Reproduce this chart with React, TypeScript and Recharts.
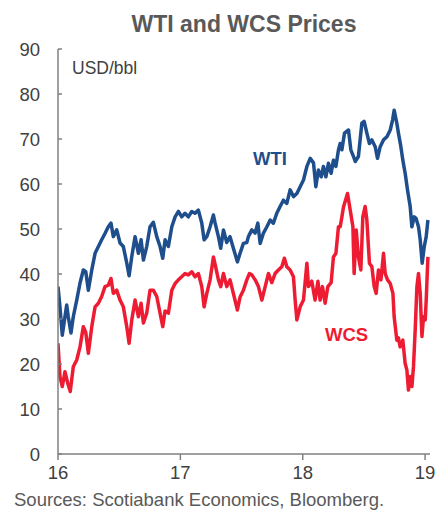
import React from 'react';
import { LineChart, Line, XAxis, YAxis } from 'recharts';

const wtiDates = [
  16.0, 16.016, 16.035, 16.057, 16.071, 16.084, 16.106, 16.125, 16.153, 16.18, 16.207, 16.227, 16.248, 16.276,
  16.303, 16.33, 16.357, 16.384, 16.411, 16.433, 16.452, 16.48, 16.507, 16.534, 16.562, 16.581, 16.603, 16.63,
  16.657, 16.679, 16.698, 16.725, 16.752, 16.779, 16.807, 16.834, 16.856, 16.875, 16.902, 16.93, 16.957, 16.984,
  17.011, 17.038, 17.065, 17.093, 17.12, 17.147, 17.175, 17.194, 17.216, 17.243, 17.27, 17.284, 17.311, 17.33,
  17.352, 17.379, 17.406, 17.433, 17.466, 17.488, 17.515, 17.543, 17.556, 17.584, 17.611, 17.633, 17.652, 17.679,
  17.707, 17.734, 17.76, 17.788, 17.815, 17.842, 17.87, 17.897, 17.924, 17.952, 17.979, 18.006, 18.034, 18.061,
  18.088, 18.107, 18.128, 18.151, 18.169, 18.189, 18.21, 18.232, 18.251, 18.271, 18.292, 18.306, 18.32, 18.341,
  18.374, 18.393, 18.415, 18.429, 18.455, 18.483, 18.502, 18.524, 18.545, 18.565, 18.592, 18.611, 18.633, 18.66,
  18.688, 18.715, 18.734, 18.747, 18.769, 18.782, 18.802, 18.818, 18.837, 18.856, 18.878, 18.892, 18.911, 18.927,
  18.946, 18.96, 18.976, 18.993, 19.009, 19.023,
];
const wtiPrices = [
  37.2, 32.7, 26.4, 30.5, 33.1, 30.5, 26.9, 30.5, 34.2, 38.0, 40.9, 40.5, 36.4, 40.9,
  44.6, 46.1, 47.6, 49.0, 50.5, 51.3, 48.3, 49.8, 46.9, 46.1, 42.4, 39.6, 43.9, 48.3,
  44.6, 47.6, 43.1, 46.1, 50.5, 51.5, 48.3, 46.1, 43.5, 47.6, 46.1, 50.5, 52.7, 53.9,
  52.7, 53.5, 52.7, 53.9, 53.5, 54.2, 51.3, 47.6, 48.3, 50.5, 53.1, 51.3, 48.3, 45.7,
  49.8, 47.0, 48.3, 45.7, 42.7, 44.6, 46.8, 47.0, 48.3, 49.8, 49.1, 51.3, 46.8, 49.1,
  50.5, 52.0, 51.3, 53.5, 55.0, 56.4, 55.7, 58.7, 57.2, 57.9, 59.4, 60.9, 63.9, 65.7,
  64.7, 59.4, 63.1, 61.6, 63.9, 61.6, 64.6, 62.4, 65.3, 63.9, 67.6, 69.0, 67.6, 71.3,
  72.0, 67.6, 66.1, 65.0, 66.1, 73.5, 73.9, 71.3, 69.0, 69.8, 68.3, 65.7, 68.3, 69.8,
  70.5, 72.0, 74.2, 76.4, 73.5, 71.3, 68.3, 65.3, 62.4, 58.7, 55.0, 50.5, 52.7, 52.3,
  50.5, 47.6, 42.4, 46.1, 48.3, 52.0,
];

const wcsDates = [
  16.0, 16.016, 16.035, 16.057, 16.079, 16.1, 16.125, 16.153, 16.18, 16.207, 16.227, 16.248, 16.276, 16.303,
  16.33, 16.357, 16.384, 16.411, 16.433, 16.452, 16.48, 16.507, 16.534, 16.562, 16.581, 16.603, 16.63, 16.657,
  16.679, 16.698, 16.725, 16.752, 16.779, 16.807, 16.834, 16.856, 16.875, 16.902, 16.93, 16.957, 16.984, 17.011,
  17.038, 17.065, 17.093, 17.12, 17.147, 17.175, 17.194, 17.216, 17.243, 17.27, 17.289, 17.311, 17.33, 17.352,
  17.379, 17.406, 17.433, 17.466, 17.488, 17.515, 17.543, 17.564, 17.584, 17.611, 17.638, 17.666, 17.693, 17.72,
  17.747, 17.774, 17.801, 17.829, 17.85, 17.87, 17.897, 17.924, 17.938, 17.952, 17.979, 18.006, 18.034, 18.047,
  18.074, 18.101, 18.124, 18.142, 18.161, 18.183, 18.205, 18.232, 18.251, 18.271, 18.292, 18.306, 18.32, 18.333,
  18.366, 18.388, 18.41, 18.42, 18.437, 18.455, 18.475, 18.491, 18.51, 18.524, 18.545, 18.565, 18.584, 18.6,
  18.619, 18.639, 18.66, 18.674, 18.693, 18.715, 18.737, 18.747, 18.769, 18.782, 18.796, 18.818, 18.837, 18.851,
  18.864, 18.878, 18.892, 18.905, 18.919, 18.933, 18.946, 18.96, 18.974, 18.987, 19.001, 19.009, 19.023,
];
const wcsPrices = [
  24.6, 17.2, 15.0, 18.3, 15.8, 13.9, 19.4, 20.9, 23.8, 28.3, 27.0, 22.4, 28.3, 32.7,
  33.5, 35.0, 37.2, 37.5, 39.0, 35.7, 36.4, 34.2, 32.7, 28.3, 24.6, 29.8, 34.2, 30.5,
  33.5, 29.1, 31.3, 36.4, 36.4, 35.0, 31.3, 28.3, 31.8, 31.3, 36.4, 37.9, 38.7, 39.4,
  40.1, 39.8, 40.5, 39.4, 40.1, 37.2, 32.7, 35.7, 38.7, 43.8, 41.5, 38.7, 37.2, 40.1,
  37.2, 38.7, 35.7, 32.0, 34.9, 36.4, 38.7, 40.1, 39.8, 38.7, 37.2, 34.2, 37.2, 40.1,
  38.1, 40.1, 40.9, 41.6, 43.5, 41.6, 40.9, 39.4, 34.2, 29.8, 32.7, 34.2, 42.4, 37.2,
  38.4, 34.2, 38.4, 34.2, 37.2, 33.5, 37.2, 38.1, 43.8, 44.6, 50.5, 50.5, 52.7, 54.9,
  57.9, 54.2, 50.5, 40.1, 49.8, 43.8, 40.9, 52.7, 55.0, 52.0, 42.4, 41.6, 37.2, 35.7,
  40.9, 38.7, 44.6, 40.1, 38.7, 37.9, 35.7, 30.5, 25.3, 25.8, 23.8, 25.3, 20.1, 18.7,
  14.2, 17.2, 15.0, 19.4, 27.6, 37.2, 40.1, 35.7, 26.1, 30.5, 29.8, 34.2, 43.8,
];

const xTicks = [16, 17, 18, 19];
const yTicks = [0, 10, 20, 30, 40, 50, 60, 70, 80, 90];

const wtiData = wtiDates.map((t, i) => ({ t, v: wtiPrices[i] }));
const wcsData = wcsDates.map((t, i) => ({ t, v: wcsPrices[i] }));

const FONT = 'Arial, "Liberation Sans", Helvetica, sans-serif';
const AXIS = '#808080';
const TEXT = '#404040';
const WTI_COLOR = '#1f4e8c';
const WCS_COLOR = '#ee1c33';

export default function App() {
  return (
    <div style={{ position: 'absolute', left: 0, top: 0, width: 444, height: 510, background: '#fff', fontFamily: FONT, overflow: 'hidden' }}>
      <LineChart width={444} height={510} data={wtiData} margin={{ top: 49, right: 14, bottom: 26, left: 8 }}>
        <XAxis
          type="number"
          dataKey="t"
          domain={[16, 19.04]}
          ticks={xTicks}
          allowDataOverflow
          height={30}
          stroke={AXIS}
          strokeWidth={1.5}
          tickSize={6}
          tickMargin={6}
          tick={{ fill: TEXT, fontSize: 18.5, fontFamily: FONT }}
        />
        <YAxis
          type="number"
          domain={[0, 90]}
          ticks={yTicks}
          width={50}
          stroke={AXIS}
          strokeWidth={1.5}
          tickSize={-4}
          tickMargin={22}
          tick={{ fill: TEXT, fontSize: 18.5, fontFamily: FONT }}
        />
        <Line data={wtiData} dataKey="v" type="linear" stroke={WTI_COLOR} strokeWidth={3.5} strokeLinejoin="round" dot={false} isAnimationActive={false} />
        <Line data={wcsData} dataKey="v" type="linear" stroke={WCS_COLOR} strokeWidth={3.5} strokeLinejoin="round" dot={false} isAnimationActive={false} />
      </LineChart>
      <svg width={444} height={510} style={{ position: 'absolute', left: 0, top: 0, pointerEvents: 'none' }}>
        <text x={244} y={32} textAnchor="middle" fontFamily={FONT} fontWeight="bold" fontSize={23} fill="#595959">WTI and WCS Prices</text>
        <text x={72} y={74} fontFamily={FONT} fontSize={17.5} fill={TEXT}>USD/bbl</text>
        <text x={253} y={165} fontFamily={FONT} fontWeight="bold" fontSize={18.5} fill={WTI_COLOR}>WTI</text>
        <text x={325} y={341} fontFamily={FONT} fontWeight="bold" fontSize={18.5} fill={WCS_COLOR}>WCS</text>
        <text x={14} y={506} fontFamily={FONT} fontSize={18.5} fill="#595959">Sources: Scotiabank Economics, Bloomberg.</text>
      </svg>
    </div>
  );
}
